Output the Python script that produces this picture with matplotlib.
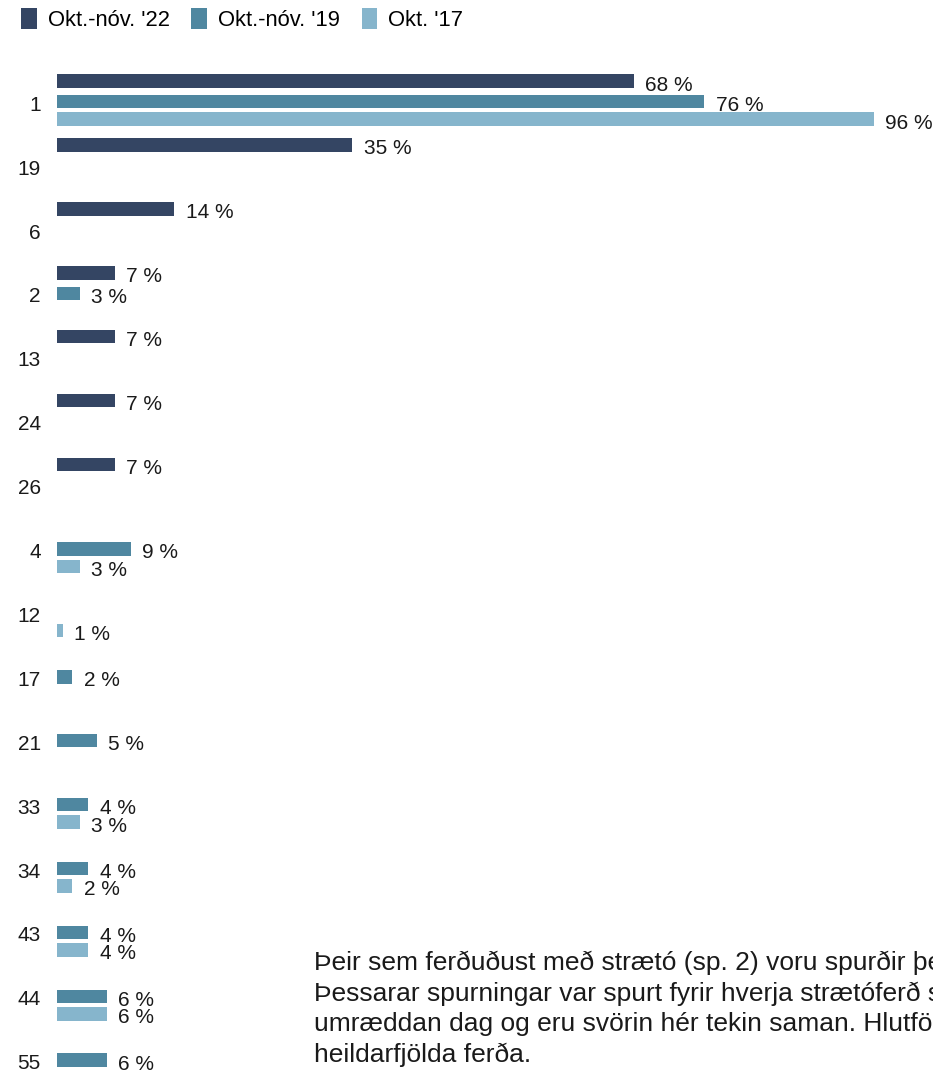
import matplotlib
matplotlib.use("Agg")
import matplotlib.pyplot as plt
import numpy as np

plt.rcParams['font.family'] = ['Liberation Sans', 'DejaVu Sans']

nan = np.nan
routes = ['1', '19', '6', '2', '13', '24', '26', '4', '12', '17', '21', '33', '34', '43', '44', '55']
v22 = [67.8, 34.7, 13.8, 6.8, 6.8, 6.8, 6.8, nan, nan, nan, nan, nan, nan, nan, nan, nan]
v19 = [76.1, nan, nan, 2.7, nan, nan, nan, 8.7, nan, 1.8, 4.7, 3.7, 3.7, 3.7, 5.9, 5.9]
v17 = [96.0, nan, nan, nan, nan, nan, nan, 2.7, 0.7, nan, nan, 2.7, 1.8, 3.7, 5.9, nan]
series_names = ["Okt.-nóv. '22", "Okt.-nóv. '19", "Okt. '17"]
colors = ['#344563', '#4f87a0', '#86b5cc']

note_lines = [
    "Þeir sem ferðuðust með strætó (sp. 2) voru spurðir þess hvaða leið þeir tóku.",
    "Þessarar spurningar var spurt fyrir hverja strætóferð sem farin var",
    "umræddan dag og eru svörin hér tekin saman. Hlutföll eru reiknuð af",
    "heildarfjölda ferða.",
]

W, H = 933, 1073
fig = plt.figure(figsize=(W / 100, H / 100), dpi=100)

# axes: x from bar start, y in category units (inverted)
x0, px_per_pct = 56.7, 8.51
y0, px_per_cat = 101.7, 63.9
ax = fig.add_axes([x0 / W, 0, 100 * px_per_pct / W, 1])
ax.set_xlim(0, 100)
ax.set_ylim((H - y0) / px_per_cat, -y0 / px_per_cat)
ax.axis('off')

offsets = [-20.6 / px_per_cat, 0.0, 17.5 / px_per_cat]
bar_h = 13.5 / px_per_cat
pos = np.arange(len(routes))

for vals, off, col, name in zip([v22, v19, v17], offsets, colors, series_names):
    vals = np.array(vals)
    ok = ~np.isnan(vals)
    ax.barh(pos[ok] + off, vals[ok], height=bar_h, color=col, label=name)
    for y, v in zip(pos[ok] + off, vals[ok]):
        ax.annotate(f"{v:.0f} %", xy=(v, y), xytext=(8.3, -6.8),
                    textcoords='offset points', va='baseline', ha='left',
                    fontsize=15, color='#1a1a1a', annotation_clip=False)

for i, r in enumerate(routes):
    ax.annotate(r, xy=(0, i), xytext=(-11.5, -6.5), textcoords='offset points',
                ha='right', va='baseline', fontsize=15, color='#1a1a1a',
                annotation_clip=False)

fs_leg = 15.8
em = fs_leg * 100 / 72
fig.legend(loc='upper left', bbox_to_anchor=(21 / W, 1 - 8.3 / H), ncol=3,
           frameon=False, fontsize=fs_leg, borderpad=0, borderaxespad=0,
           handlelength=15.7 / em, handleheight=24 / em,
           handletextpad=11 / em, columnspacing=21.7 / em)

# note text runs past the right edge, as in the source image
for k, line in enumerate(note_lines):
    fig.text(314 / W, 1 - (970 + 30.6 * k) / H, line, fontsize=19,
             va='baseline', ha='left', color='#1a1a1a')

fig.savefig('out.png', dpi=100)
